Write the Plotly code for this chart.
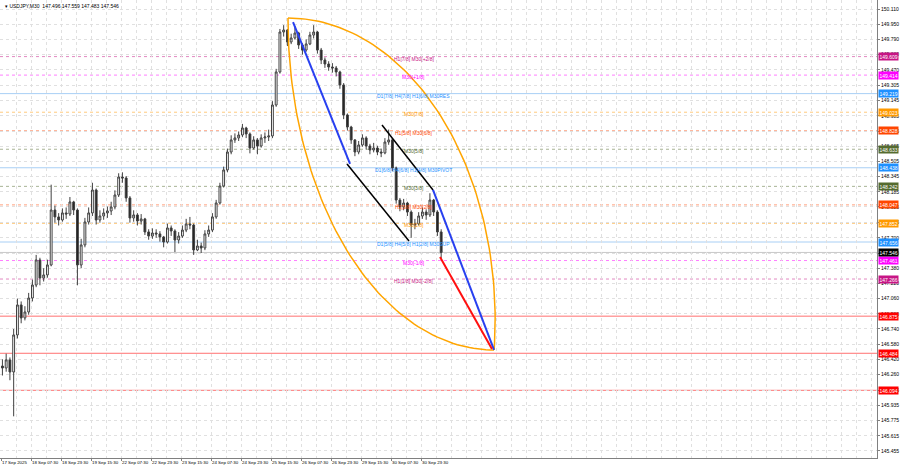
import numpy as np
import plotly.graph_objects as go

# ---------------- data (2-hour aggregated candles) -------------
close = [146.329, 146.414, 146.287, 146.677, 146.993, 146.856, 146.919, 147.066, 147.203, 147.467,
         147.277, 147.309, 147.414, 147.993, 147.920, 147.888, 147.962, 147.951, 148.078, 147.993,
         147.414, 147.625, 147.867, 147.962, 148.204, 147.888, 147.930, 147.962, 147.983, 148.025,
         148.151, 148.341, 148.330, 148.120, 147.909, 147.941, 147.877, 147.899, 147.762, 147.719,
         147.751, 147.741, 147.709, 147.656, 147.804, 147.772, 147.677, 147.719, 147.782, 147.846,
         147.835, 147.572, 147.614, 147.593, 147.741, 147.782, 147.920, 148.067, 148.246, 148.415,
         148.604, 148.731, 148.752, 148.783, 148.857, 148.794, 148.646, 148.731, 148.667, 148.752,
         148.762, 148.773, 149.099, 149.447, 149.868, 149.889, 149.763, 149.805, 149.857, 149.731,
         149.678, 149.742, 149.836, 149.868, 149.678, 149.573, 149.531, 149.499, 149.489, 149.447,
         149.310, 148.994, 148.867, 148.731, 148.604, 148.678, 148.752, 148.667, 148.625, 148.646,
         148.604, 148.594, 148.709, 148.731, 148.436, 148.098, 148.025, 148.067, 147.972, 147.835,
         147.846, 147.930, 147.972, 147.941, 148.098, 147.972, 147.762, 147.546]
high = [146.420, 146.480, 146.440, 146.740, 147.060, 147.030, 146.980, 147.120, 147.260, 147.520,
        147.490, 147.380, 147.470, 148.260, 148.040, 147.960, 148.010, 148.020, 148.130, 148.090,
        148.010, 147.690, 147.910, 148.020, 148.280, 148.220, 147.990, 148.010, 148.030, 148.080,
        148.200, 148.380, 148.390, 148.350, 148.140, 147.990, 147.960, 147.950, 147.910, 147.790,
        147.800, 147.790, 147.770, 147.720, 147.850, 147.830, 147.790, 147.760, 147.830, 147.900,
        147.920, 147.850, 147.680, 147.650, 147.780, 147.830, 147.960, 148.100, 148.280, 148.450,
        148.640, 148.780, 148.800, 148.820, 148.900, 148.870, 148.810, 148.770, 148.750, 148.790,
        148.810, 148.840, 149.140, 149.480, 149.900, 149.940, 149.900, 149.850, 149.930, 149.870,
        149.750, 149.790, 149.870, 149.940, 149.880, 149.700, 149.600, 149.560, 149.540, 149.510,
        149.460, 149.330, 149.010, 148.880, 148.740, 148.720, 148.790, 148.770, 148.690, 148.700,
        148.670, 148.640, 148.750, 148.840, 148.750, 148.450, 148.120, 148.110, 148.080, 147.990,
        147.900, 147.970, 148.020, 148.000, 148.170, 148.110, 147.990, 147.790]
low = [146.250, 146.290, 146.200, 145.820, 146.640, 146.800, 146.830, 146.890, 147.030, 147.180,
       147.200, 147.240, 147.280, 147.400, 147.860, 147.830, 147.870, 147.900, 147.930, 147.940,
       147.200, 147.380, 147.600, 147.840, 147.930, 147.840, 147.860, 147.890, 147.910, 147.940,
       148.000, 148.130, 148.280, 148.080, 147.860, 147.870, 147.830, 147.840, 147.730, 147.680,
       147.690, 147.700, 147.660, 147.600, 147.640, 147.720, 147.550, 147.640, 147.700, 147.760,
       147.790, 147.520, 147.560, 147.540, 147.570, 147.710, 147.760, 147.900, 148.050, 148.230,
       148.390, 148.580, 148.700, 148.720, 148.760, 148.750, 148.590, 148.630, 148.580, 148.650,
       148.700, 148.720, 148.750, 149.080, 149.430, 149.820, 149.720, 149.740, 149.790, 149.690,
       149.630, 149.660, 149.730, 149.800, 149.640, 149.530, 149.490, 149.460, 149.440, 149.400,
       149.270, 148.950, 148.830, 148.690, 148.560, 148.580, 148.660, 148.630, 148.580, 148.600,
       148.570, 148.550, 148.580, 148.680, 148.400, 148.060, 147.980, 147.990, 147.930, 147.700,
       147.790, 147.830, 147.900, 147.890, 147.920, 147.930, 147.720, 147.480]
first_open = 146.350
open_ = [first_open] + close[:-1]
bars_per_candle = 4
bar_x = [k * bars_per_candle + 1.5 for k in range(len(close))]

time_tick_bars = list(range(0, 449, 32))
time_tick_text = ["17 Sep 2025", "18 Sep 07:30", "18 Sep 23:30", "19 Sep 15:30", "22 Sep 07:30",
                  "22 Sep 23:30", "23 Sep 15:30", "24 Sep 07:30", "24 Sep 23:30", "25 Sep 15:30",
                  "26 Sep 07:30", "26 Sep 23:30", "29 Sep 15:30", "30 Sep 07:30", "30 Sep 23:30"]
price_ticks = [150.110, 149.950, 149.790, 149.630, 149.470, 149.305, 149.145, 148.985, 148.825,
               148.665, 148.505, 148.345, 148.185, 148.025, 147.865, 147.700, 147.540, 147.380,
               147.220, 147.060, 146.900, 146.740, 146.580, 146.420, 146.260, 146.095, 145.935,
               145.775, 145.615, 145.455]

# Murrey math levels
level_prices = [149.609, 149.414, 149.219, 149.023, 148.828, 148.633, 148.438, 148.242,
                148.047, 147.852, 147.656, 147.461, 147.266]
level_names = ["H1[7/8] M30[+2/8]", "M30[+1/8]", "D1[7/8] H4[7/8] H1[6/8] M30RES", "M30[7/8]",
               "H1[5/8] M30[6/8]", "M30[5/8]", "D1[6/8] H4[6/8] H1[4/8] M30PIVOT", "M30[3/8]",
               "H1[3/8] M30[2/8]", "M30[1/8]", "D1[5/8] H4[5/8] H1[2/8] M30SUP", "M30[-1/8]",
               "H1[1/8] M30[-2/8]"]
level_colors = ["#c71585", "#ff00ff", "#1e90ff", "#ff9900", "#ff4500", "#556b2f", "#1e90ff",
                "#556b2f", "#ff4500", "#ff9900", "#1e90ff", "#ff00ff", "#c71585"]
level_solid = [False, False, True, False, False, False, True, False, False, False, True, False, False]

red_prices = [146.875, 146.484, 146.094]
bid_price = 147.546

header_text = "USDJPY,M30  147.496 147.559 147.483 147.546"

# drawn objects (bar index, price)
blue1 = [(311.5, 149.973), (372.3, 148.478)]
black1 = [(369.1, 148.478), (435.2, 147.667)]
black2 = [(406.4, 148.888), (460.8, 148.204)]
blue2 = [(460.8, 148.204), (525.9, 146.519)]
red1 = [(468.3, 147.498), (523.7, 146.529)]
arc_a = (306.1, 150.015)
arc_b = (525.9, 146.519)
arc2_center_price = 146.835
arc2_rx = 221.0
arc2_ry = 3.18
arc2_end_deg = 95.7

X_RANGE = [-1.07, 934.4]
Y_RANGE = [145.381, 150.205]
FONT = "Liberation Sans"
GRID = "#e0e0e0"

fig = go.Figure()

fig.add_trace(go.Candlestick(
    x=bar_x, open=open_, high=high, low=low, close=close,
    increasing=dict(line=dict(color="#404040", width=1), fillcolor="#ffffff"),
    decreasing=dict(line=dict(color="#404040", width=1), fillcolor="#202020"),
    whiskerwidth=0, showlegend=False, hoverinfo="skip"))

# arcs
t = np.linspace(0, np.pi / 2, 80)
ax_ = arc_b[0] - (arc_b[0] - arc_a[0]) * np.cos(t)
ay_ = arc_a[1] - (arc_a[1] - arc_b[1]) * np.sin(t)
fig.add_trace(go.Scatter(x=ax_, y=ay_, mode="lines", line=dict(color="#ffa500", width=1.5),
                         showlegend=False, hoverinfo="skip"))
t2 = np.linspace(0, np.radians(arc2_end_deg), 80)
bx_ = arc_a[0] + arc2_rx * np.sin(t2)
by_ = arc2_center_price + arc2_ry * np.cos(t2)
fig.add_trace(go.Scatter(x=bx_, y=by_, mode="lines", line=dict(color="#ffa500", width=1.5),
                         showlegend=False, hoverinfo="skip"))

for seg, col, w in [(blue1, "#2840f0", 2), (black1, "#000000", 1.5), (black2, "#000000", 1.5),
                    (blue2, "#2840f0", 2), (red1, "#ff1010", 2)]:
    fig.add_trace(go.Scatter(x=[seg[0][0], seg[1][0]], y=[seg[0][1], seg[1][1]], mode="lines",
                             line=dict(color=col, width=w), showlegend=False, hoverinfo="skip"))

shapes = []
annotations = []
for p, name, col, solid in zip(level_prices, level_names, level_colors, level_solid):
    if solid:
        shapes.append(dict(type="line", xref="paper", x0=0, x1=1, yref="y", y0=p, y1=p,
                           line=dict(color="#a8cff5", width=1), layer="below"))
    else:
        shapes.append(dict(type="line", xref="paper", x0=0, x1=1, yref="y", y0=p, y1=p,
                           line=dict(color=col, width=1, dash="dot"), opacity=0.5, layer="below"))
    annotations.append(dict(x=440.5, y=p, xref="x", yref="y", text=name, showarrow=False,
                            yshift=-2, font=dict(family=FONT, size=5, color=col)))
    annotations.append(dict(x=1, y=p, xref="paper", yref="y", text=f"{p:.3f}", showarrow=False,
                            xanchor="left", xshift=1, bgcolor=col, borderpad=0.5,
                            font=dict(family=FONT, size=5, color="#ffffff")))

for p in red_prices:
    shapes.append(dict(type="line", xref="paper", x0=0, x1=1, yref="y", y0=p, y1=p,
                       line=dict(color="#ff7070", width=1), layer="below"))
    annotations.append(dict(x=1, y=p, xref="paper", yref="y", text=f"{p:.3f}", showarrow=False,
                            xanchor="left", xshift=1, bgcolor="#ff0000", borderpad=0.5,
                            font=dict(family=FONT, size=5, color="#ffffff")))

shapes.append(dict(type="line", xref="paper", x0=0, x1=1, yref="y", y0=bid_price, y1=bid_price,
                   line=dict(color="#c8c8c8", width=1), layer="below"))
annotations.append(dict(x=1, y=bid_price, xref="paper", yref="y", text=f"{bid_price:.3f}",
                        showarrow=False, xanchor="left", xshift=1, bgcolor="#000000", borderpad=0.5,
                        font=dict(family=FONT, size=5, color="#ffffff")))

annotations.append(dict(x=0, y=1, xref="paper", yref="paper", text="▾ " + header_text,
                        showarrow=False, xanchor="left", yanchor="top", xshift=3, yshift=-1,
                        font=dict(family=FONT, size=5, color="#000000")))

fig.update_layout(
    width=900, height=468, autosize=False,
    margin=dict(l=0, r=23, t=0, b=10, autoexpand=False),
    paper_bgcolor="#ffffff", plot_bgcolor="#ffffff",
    shapes=shapes, annotations=annotations,
    showlegend=False,
    xaxis=dict(range=X_RANGE, type="linear", rangeslider=dict(visible=False),
               tickmode="array", tickvals=time_tick_bars, ticktext=time_tick_text,
               tickangle=0, automargin=False,
               ticklabelposition="outside right", ticks="outside", ticklen=2,
               tickcolor="#808080", tickfont=dict(family=FONT, size=4.4, color="#000000"),
               showgrid=True, gridcolor=GRID, griddash="dot", gridwidth=1,
               minor=dict(dtick=16, tick0=0, showgrid=True, gridcolor=GRID, griddash="dot"),
               showline=True, linecolor="#808080", linewidth=1, mirror=True, zeroline=False,
               fixedrange=True),
    yaxis=dict(range=Y_RANGE, side="right", tickmode="array", tickvals=price_ticks,
               ticktext=[f"{v:.3f}" for v in price_ticks], ticks="outside", ticklen=2,
               automargin=False,
               tickcolor="#808080", tickfont=dict(family=FONT, size=5, color="#000000"),
               showgrid=True, gridcolor=GRID, griddash="dot", gridwidth=1,
               showline=True, linecolor="#808080", linewidth=1, mirror=True, zeroline=False,
               fixedrange=True),
)

fig.write_html("out.html", config={"displayModeBar": False},
               post_script="document.body.style.margin='0px';document.body.style.padding='0px';")
